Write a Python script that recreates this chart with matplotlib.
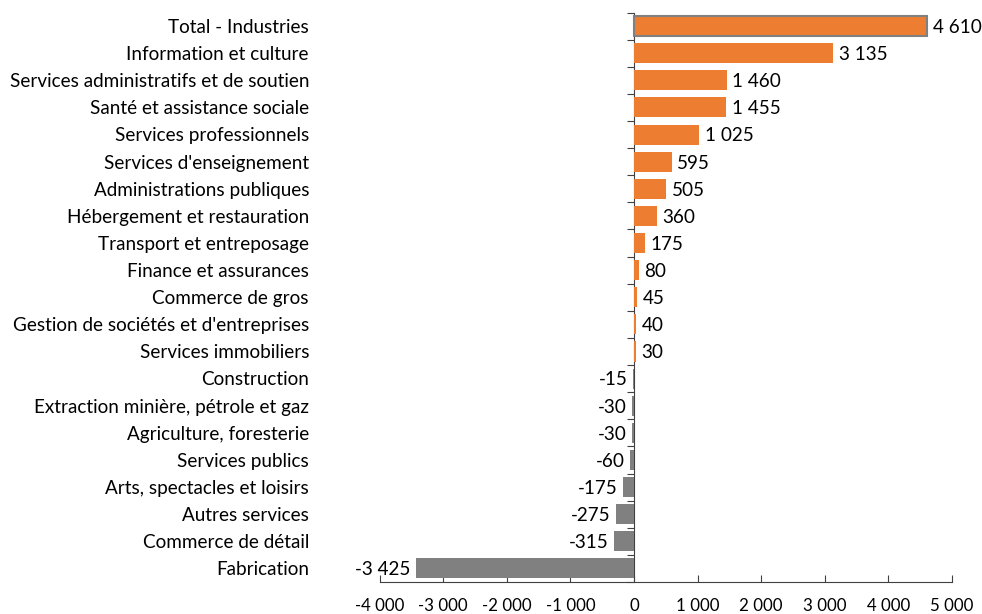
import matplotlib
matplotlib.use("Agg")
import matplotlib.pyplot as plt
from matplotlib.transforms import blended_transform_factory
import numpy as np

categories = [
    "Total - Industries",
    "Information et culture",
    "Services administratifs et de soutien",
    "Santé et assistance sociale",
    "Services professionnels",
    "Services d'enseignement",
    "Administrations publiques",
    "Hébergement et restauration",
    "Transport et entreposage",
    "Finance et assurances",
    "Commerce de gros",
    "Gestion de sociétés et d'entreprises",
    "Services immobiliers",
    "Construction",
    "Extraction minière, pétrole et gaz",
    "Agriculture, foresterie",
    "Services publics",
    "Arts, spectacles et loisirs",
    "Autres services",
    "Commerce de détail",
    "Fabrication",
]
values = [4610, 3135, 1460, 1455, 1025, 595, 505, 360, 175, 80, 45, 40, 30,
          -15, -30, -30, -60, -175, -275, -315, -3425]
xticks = [-4000, -3000, -2000, -1000, 0, 1000, 2000, 3000, 4000, 5000]

ORANGE = "#ED7D31"
GRAY = "#808080"
FONT = "Lato"
FS = 13.6
FS_TICK = 12.2

def fmt(v):
    s = f"{abs(v):,}".replace(",", " ")
    return ("-" if v < 0 else "") + s

fig = plt.figure(figsize=(9.82, 6.14), dpi=100)
W, H = 982, 614
left, right, top, bottom = 379.5, 952, 12.5, 582
ax = fig.add_axes([left / W, 1 - bottom / H, (right - left) / W, (bottom - top) / H])

n = len(categories)
y = np.arange(n)[::-1]
colors = [ORANGE if v >= 0 else GRAY for v in values]
bars = ax.barh(y, values, height=0.74, color=colors, zorder=2)
bars[0].set_edgecolor(GRAY)
bars[0].set_linewidth(1.5)

ax.set_xlim(-4000, 5000)
ax.set_ylim(-0.5, n - 0.5)

for sp in ["top", "right"]:
    ax.spines[sp].set_visible(False)
ax.spines["left"].set_position(("data", 0))
ax.spines["left"].set_color("#404040")
ax.spines["bottom"].set_color("#404040")
ax.spines["left"].set_zorder(1)

ax.set_yticks(np.arange(n + 1) - 0.5)
ax.set_yticklabels([])
ax.tick_params(axis="y", length=5, direction="out", color="#404040")

ax.set_xticks(xticks)
ax.set_xticklabels([fmt(v) for v in xticks], fontsize=FS_TICK, fontfamily=FONT)
ax.tick_params(axis="x", length=5, direction="in", pad=11.5, color="#404040")

trans = blended_transform_factory(ax.transAxes, ax.transData)
off = -(left - 309) / (right - left)
for yi, c in zip(y, categories):
    ax.text(off, yi - 0.05, c, transform=trans, ha="right", va="center",
            fontsize=FS, fontfamily=FONT)

for yi, v in zip(y, values):
    if v >= 0:
        ax.annotate(fmt(v), (v, yi - 0.05), xytext=(4, 0), textcoords="offset points",
                    ha="left", va="center", fontsize=FS, fontfamily=FONT)
    else:
        ax.annotate(fmt(v), (v, yi - 0.05), xytext=(-4, 0), textcoords="offset points",
                    ha="right", va="center", fontsize=FS, fontfamily=FONT)

fig.savefig("out.png", dpi=100)
